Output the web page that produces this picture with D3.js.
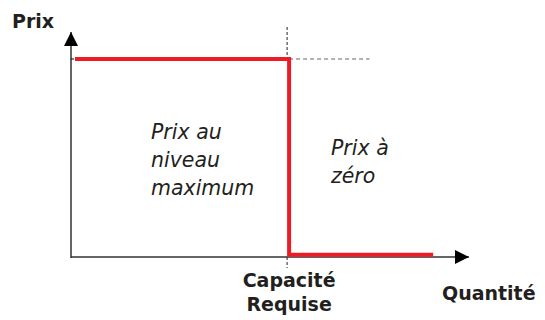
<!DOCTYPE html>
<html>
<head>
<meta charset="utf-8">
<script src="https://cdn.jsdelivr.net/npm/d3@7"></script>
<style>
  body { margin: 0; background: #fff; }
  text { font-family: "DejaVu Sans", Verdana, sans-serif; fill: #231f20; }
</style>
</head>
<body>
<div id="chart"></div>
<script>
// data: price / quantity step (values in arbitrary units 0-100)
var stepQuantity = [1, 54.8, 54.8, 91];
var stepPrice = [88, 88, 1, 1];
var capacity = 54.8;
var maxPrice = 88;
var guideEnd = 75;
var regionLeft = ["Prix au", "niveau", "maximum"];
var regionRight = ["Prix à", "zéro"];

var svgWidth = 545;
var svgHeight = 320;

var svg = d3.select("#chart")
    .append("svg")
    .attr("width", svgWidth)
    .attr("height", svgHeight);

var x = d3.scaleLinear().domain([0, 100]).range([71, 469]);
var y = d3.scaleLinear().domain([0, 100]).range([257, 32]);

var axisColor = "#333";

// arrow marker
svg.append("defs").append("marker")
    .attr("id", "arrow")
    .attr("viewBox", "0 0 14 14")
    .attr("refX", 14)
    .attr("refY", 7)
    .attr("markerWidth", 14)
    .attr("markerHeight", 14)
    .attr("markerUnits", "userSpaceOnUse")
    .attr("orient", "auto")
    .append("path")
    .attr("d", "M0,0 L14,7 L0,14 Z")
    .attr("fill", "#000");

// dashed guides
svg.append("line")
    .attr("x1", x(capacity) - 2).attr("x2", x(capacity) - 2)
    .attr("y1", 27).attr("y2", y(maxPrice))
    .attr("stroke", "#222").attr("stroke-width", 1)
    .attr("stroke-dasharray", "3,2");
svg.append("line")
    .attr("x1", x(capacity) - 2).attr("x2", x(capacity) - 2)
    .attr("y1", y(0)).attr("y2", 268)
    .attr("stroke", "#222").attr("stroke-width", 1)
    .attr("stroke-dasharray", "3,2");
svg.append("line")
    .attr("x1", x(capacity)).attr("x2", x(guideEnd))
    .attr("y1", y(maxPrice)).attr("y2", y(maxPrice))
    .attr("stroke", "#666").attr("stroke-width", 1)
    .attr("stroke-dasharray", "4,3");

// axes
svg.append("line")
    .attr("x1", x(0)).attr("x2", x(0))
    .attr("y1", y(0) + 1).attr("y2", y(100))
    .attr("stroke", axisColor).attr("stroke-width", 1.5)
    .attr("marker-end", "url(#arrow)");
svg.append("line")
    .attr("x1", x(0)).attr("x2", x(100))
    .attr("y1", y(0)).attr("y2", y(0))
    .attr("stroke", axisColor).attr("stroke-width", 1.5)
    .attr("marker-end", "url(#arrow)");
// small tick at max price
svg.append("line")
    .attr("x1", x(0)).attr("x2", x(0) + 3)
    .attr("y1", y(maxPrice)).attr("y2", y(maxPrice))
    .attr("stroke", "#000").attr("stroke-width", 1);

// step line
var line = d3.line()
    .x(function(d, i) { return x(stepQuantity[i]); })
    .y(function(d, i) { return y(stepPrice[i]); });

svg.append("path")
    .datum(stepQuantity)
    .attr("d", line)
    .attr("fill", "none")
    .attr("stroke", "#ed1c24")
    .attr("stroke-width", 4)
    .attr("stroke-linejoin", "miter");

// labels
svg.append("text")
    .attr("x", 12).attr("y", 28)
    .attr("font-size", 19).attr("font-weight", "bold")
    .text("Prix");

svg.append("text")
    .attr("x", 442).attr("y", 300)
    .attr("font-size", 19).attr("font-weight", "bold")
    .text("Quantité");

svg.selectAll(".cap")
    .data(["Capacité", "Requise"])
    .enter()
    .append("text")
    .attr("class", "cap")
    .attr("x", x(capacity))
    .attr("y", (d, i) => 287 + i * 24)
    .attr("text-anchor", "middle")
    .attr("font-size", 19).attr("font-weight", "bold")
    .text(d => d);

svg.selectAll(".left")
    .data(regionLeft)
    .enter()
    .append("text")
    .attr("class", "left")
    .attr("x", 151)
    .attr("y", (d, i) => 139 + i * 28)
    .attr("font-size", 20.5).attr("font-style", "italic")
    .text(d => d);

svg.selectAll(".right")
    .data(regionRight)
    .enter()
    .append("text")
    .attr("class", "right")
    .attr("x", 331)
    .attr("y", (d, i) => 155 + i * 28)
    .attr("font-size", 20.5).attr("font-style", "italic")
    .text(d => d);
</script>
</body>
</html>
